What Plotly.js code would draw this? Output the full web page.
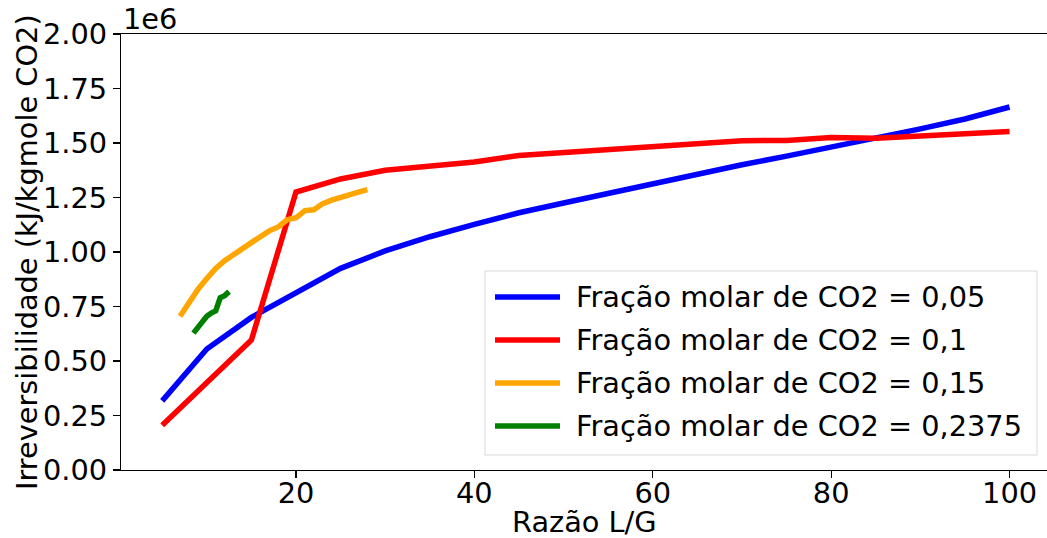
<!DOCTYPE html>
<html>
<head>
<meta charset="utf-8">
<script src="https://cdn.plot.ly/plotly-3.0.1.min.js"></script>
<style>html,body{margin:0;padding:0;background:#fff;overflow:hidden;}</style>
</head>
<body>
<div id="chart" style="width:1047px;height:538px;"></div>
<script>
// Data (values in units of 1e6 kJ/kgmole CO2)
const xBlue = [5,10,15,20,25,30,35,40,45,50,55,60,65,70,75,80,85,90,95,100];
const yBlue = [0.317,0.555,0.70,0.815,0.925,1.005,1.07,1.127,1.18,1.225,1.27,1.315,1.36,1.40,1.44,1.48,1.52,1.565,1.61,1.665];

const xRed = [5,10,15,20,25,30,35,40,45,50,55,60,65,70,75,80,85,90,95,100];
const yRed = [0.205,0.40,0.596,1.275,1.335,1.375,1.397,1.413,1.443,1.457,1.47,1.483,1.497,1.51,1.512,1.525,1.522,1.53,1.542,1.553];

const xOrange = [7,8,9,10,11,12,13,14,15,16,17,18,19,20,21,22,23,24,25,26,27,28];
const yOrange = [0.705,0.77,0.828,0.878,0.925,0.96,0.99,1.018,1.043,1.07,1.097,1.115,1.148,1.157,1.19,1.194,1.222,1.238,1.252,1.264,1.275,1.286];

const xGreen = [8.5,9,9.5,10,10.5,11,11.5,12,12.5];
const yGreen = [0.628,0.655,0.682,0.705,0.72,0.73,0.79,0.80,0.818];

const seriesNames = [
  "Fração molar de CO2 = 0,05",
  "Fração molar de CO2 = 0,1",
  "Fração molar de CO2 = 0,15",
  "Fração molar de CO2 = 0,2375"
];
const seriesColors = ["#0000ff","#ff0000","#ffa500","#008000"];
const yTicks = [0,0.25,0.5,0.75,1.0,1.25,1.5,1.75,2.0];
const yTickLabels = ["0.00","0.25","0.50","0.75","1.00","1.25","1.50","1.75","2.00"];
const xTicks = [20,40,60,80,100];
const xTitle = 'Razão L/G';
const yTitle = 'Irreversibilidade (kJ/kgmole CO2)';

const FONT = "DejaVu Sans, sans-serif";
const FS = 28.8;
const xs = [xBlue,xRed,xOrange,xGreen];
const ys = [yBlue,yRed,yOrange,yGreen];

const traces = xs.map((x,i)=>({
  x:x, y:ys[i].map(v=>v*1e6), type:'scatter', mode:'lines', name:seriesNames[i],
  line:{color:seriesColors[i], width:5.5}, showlegend:false
}));

// manual legend (matplotlib style)
const plotL=121, plotW=926, plotT=34, plotH=436;
const px = p => (p-plotL)/plotW;
const py = p => (plotT+plotH-p)/plotH;
const legendRows = [297,340,383,426];
const shapes = [{
  type:'rect', xref:'paper', yref:'paper', x0:px(485), x1:px(1037), y0:py(455), y1:py(271),
  line:{color:'#d9d9d9', width:1}, fillcolor:'rgba(255,255,255,0.8)', layer:'above'
}];
const annotations = [{
  text:'1e6', xref:'paper', yref:'paper', x:0, y:1, xanchor:'left', yanchor:'bottom',
  yshift:-4, showarrow:false, font:{family:FONT, size:FS, color:'#000'}
},{
  text:xTitle, xref:'paper', yref:'paper', x:px(584), y:py(522), xanchor:'center', yanchor:'middle',
  showarrow:false, font:{family:FONT, size:FS, color:'#000'}
},{
  text:yTitle, xref:'paper', yref:'paper', x:px(27), y:py(252), xanchor:'center', yanchor:'middle',
  textangle:-90, showarrow:false, font:{family:FONT, size:FS, color:'#000'}
}];
seriesNames.forEach((n,i)=>{
  shapes.push({type:'line', xref:'paper', yref:'paper', x0:px(495), x1:px(560),
    y0:py(legendRows[i]), y1:py(legendRows[i]), line:{color:seriesColors[i], width:5.5}, layer:'above'});
  annotations.push({text:n, xref:'paper', yref:'paper', x:px(574), y:py(legendRows[i]),
    xanchor:'left', yanchor:'middle', showarrow:false, font:{family:FONT, size:FS, color:'#000'}});
});

const layout = {
  width:1047, height:538,
  margin:{l:plotL, r:0, t:plotT, b:538-plotT-plotH, pad:0},
  paper_bgcolor:'#fff', plot_bgcolor:'#fff',
  font:{family:FONT, size:FS, color:'#000'},
  showlegend:false,
  xaxis:{
    range:[0.38,104.2], tickvals:xTicks, ticks:'outside', ticklen:7, tickwidth:1.2, tickcolor:'#000',
    showline:true, linecolor:'#000', linewidth:1.2, mirror:true, showgrid:false, zeroline:false,
    tickfont:{family:FONT, size:FS, color:'#000'}, ticklabelstandoff:-10
  },
  yaxis:{
    range:[0,2e6], tickvals:yTicks.map(v=>v*1e6), ticktext:yTickLabels, ticks:'outside', ticklen:7,
    tickwidth:1.2, tickcolor:'#000',
    showline:true, linecolor:'#000', linewidth:1.2, showgrid:false, zeroline:false,
    tickfont:{family:FONT, size:FS, color:'#000'}
  },
  shapes:shapes, annotations:annotations
};

Plotly.newPlot('chart', traces, layout, {displayModeBar:false, staticPlot:true});
</script>
</body>
</html>
